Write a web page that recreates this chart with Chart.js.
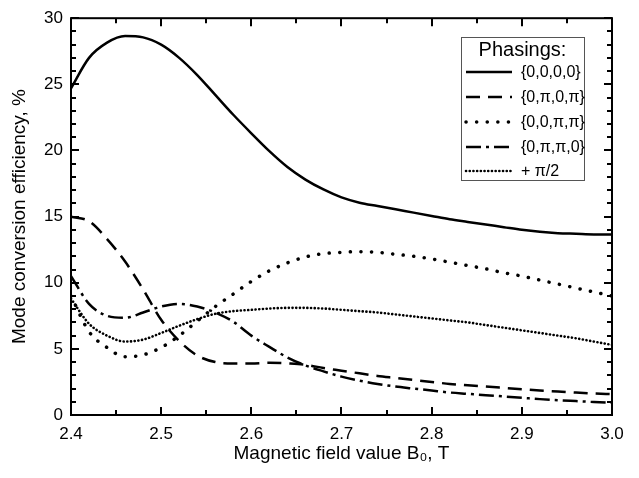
<!DOCTYPE html>
<html>
<head>
<meta charset="utf-8">
<script src="https://cdn.jsdelivr.net/npm/chart.js@4.4.1/dist/chart.umd.min.js"></script>
<style>
  html, body { margin: 0; padding: 0; background: #fff; }
  #wrap { width: 639px; height: 478px; }
</style>
</head>
<body>
<div id="wrap"><canvas id="chart" width="639" height="478"></canvas></div>
<script>
// field values, T
const fieldB = [2.40, 2.42, 2.44, 2.46, 2.48, 2.50, 2.52, 2.54, 2.56, 2.58, 2.60,
                2.62, 2.64, 2.66, 2.68, 2.70, 2.72, 2.74, 2.76, 2.78, 2.80,
                2.82, 2.84, 2.86, 2.88, 2.90, 2.92, 2.94, 2.96, 2.98, 3.00];

// conversion efficiency, % for each phasing
const phase0000 = [24.7, 27.0, 28.15, 28.65, 28.55, 28.0, 27.0, 25.7, 24.2, 22.7, 21.3,
                   19.95, 18.75, 17.8, 17.05, 16.45, 16.05, 15.8, 15.55, 15.3, 15.05,
                   14.8, 14.6, 14.4, 14.2, 14.0, 13.85, 13.75, 13.7, 13.65, 13.65];
const phase0p0p = [15.0, 14.65, 13.3, 11.6, 9.5, 7.2, 5.6, 4.5, 4.0, 3.9, 3.9,
                   3.95, 3.9, 3.8, 3.55, 3.35, 3.15, 2.95, 2.8, 2.65, 2.5,
                   2.35, 2.25, 2.15, 2.05, 1.95, 1.85, 1.78, 1.7, 1.63, 1.58];
const phase00pp = [9.0, 6.3, 5.1, 4.4, 4.55, 5.1, 6.0, 7.1, 8.2, 9.15, 10.1,
                   10.9, 11.5, 11.95, 12.2, 12.3, 12.35, 12.3, 12.15, 12.0, 11.8,
                   11.55, 11.3, 11.05, 10.75, 10.5, 10.2, 9.9, 9.6, 9.3, 9.0];
const phase0pp0 = [10.5, 8.4, 7.5, 7.35, 7.75, 8.2, 8.4, 8.2, 7.75, 7.05, 6.0,
                   5.15, 4.35, 3.75, 3.3, 2.9, 2.6, 2.35, 2.15, 2.0, 1.85,
                   1.7, 1.6, 1.5, 1.4, 1.3, 1.2, 1.12, 1.05, 0.98, 0.92];
const phaseHalfPi = [8.8, 6.9, 6.0, 5.55, 5.7, 6.2, 6.75, 7.25, 7.65, 7.85, 7.95,
                     8.05, 8.1, 8.1, 8.05, 7.95, 7.85, 7.75, 7.6, 7.45, 7.3,
                     7.15, 7.0, 6.8, 6.6, 6.4, 6.2, 6.0, 5.8, 5.55, 5.3];

const seriesLabels = ["{0,0,0,0}", "{0,\u03c0,0,\u03c0}", "{0,0,\u03c0,\u03c0}", "{0,\u03c0,\u03c0,0}", "+ \u03c0/2"];
const xTicks = [2.4, 2.5, 2.6, 2.7, 2.8, 2.9, 3.0];
const yTicks = [0, 5, 10, 15, 20, 25, 30];

const FONT = "'Liberation Sans', Arial, sans-serif";

function pts(ys) {
    return fieldB.map((b, i) => ({ x: b, y: ys[i] }));
}

function line(label, ys, dash, width, cap) {
    return {
        label: label,
        data: pts(ys),
        borderColor: "#000",
        borderWidth: width,
        borderDash: dash,
        borderCapStyle: cap || "butt",
        pointRadius: 0,
        fill: false,
        cubicInterpolationMode: "monotone"
    };
}

// ticks pointing into the plot on all four sides, plus the frame
const frameTicks = {
    id: "frameTicks",
    afterDatasetsDraw(chart) {
        const { ctx, chartArea: a, scales } = chart;
        const xs = scales.x, ys = scales.y;
        ctx.save();
        ctx.strokeStyle = "#000";
        ctx.lineWidth = 2;
        ctx.beginPath();
        for (let v = 2.4; v <= 3.0001; v += 0.05) {
            const px = Math.round(xs.getPixelForValue(v));
            const major = Math.abs(v * 10 - Math.round(v * 10)) < 1e-6;
            const len = major ? 8 : 5;
            ctx.moveTo(px, a.bottom); ctx.lineTo(px, a.bottom - len);
            ctx.moveTo(px, a.top); ctx.lineTo(px, a.top + len);
        }
        for (let v = 0; v <= 30; v += 1) {
            const py = Math.round(ys.getPixelForValue(v));
            const len = v % 5 === 0 ? 8 : 5;
            ctx.moveTo(a.left, py); ctx.lineTo(a.left + len, py);
            ctx.moveTo(a.right, py); ctx.lineTo(a.right - len, py);
        }
        ctx.stroke();
        ctx.strokeRect(a.left, a.top, a.right - a.left, a.bottom - a.top);
        ctx.restore();
    }
};

// boxed legend with a heading, drawn inside the plot area
const phasingLegend = {
    id: "phasingLegend",
    afterDraw(chart) {
        const ctx = chart.ctx;
        const box = { x: 461, y: 37, w: 123, h: 143 };
        ctx.save();
        ctx.fillStyle = "#fff";
        ctx.fillRect(box.x, box.y, box.w, box.h);
        ctx.strokeStyle = "#555";
        ctx.lineWidth = 1;
        ctx.strokeRect(box.x + 0.5, box.y + 0.5, box.w, box.h);

        ctx.fillStyle = "#000";
        ctx.font = "20px " + FONT;
        ctx.textAlign = "center";
        ctx.textBaseline = "middle";
        ctx.fillText("Phasings:", box.x + box.w / 2, 50);

        const rows = [72, 97, 122, 147, 171];
        chart.data.datasets.forEach((ds, i) => {
            const y = rows[i];
            ctx.save();
            ctx.strokeStyle = ds.borderColor;
            ctx.lineWidth = ds.borderWidth;
            ctx.setLineDash(ds.borderDash);
            ctx.lineCap = ds.borderCapStyle;
            ctx.beginPath();
            ctx.moveTo(466, y);
            ctx.lineTo(512, y);
            ctx.stroke();
            ctx.restore();
            ctx.font = "16px " + FONT;
            ctx.textAlign = "left";
            ctx.fillText(ds.label, 521, y + 1);
        });
        ctx.restore();
    }
};

new Chart(document.getElementById("chart"), {
    type: "line",
    data: {
        datasets: [
            line(seriesLabels[0], phase0000, [], 2.5),
            line(seriesLabels[1], phase0p0p, [14, 8], 2.5),
            line(seriesLabels[2], phase00pp, [0.1, 10.5], 3.5, "round"),
            line(seriesLabels[3], phase0pp0, [15, 5, 3, 5], 2.5),
            line(seriesLabels[4], phaseHalfPi, [0.1, 3.6], 2.6, "round")
        ]
    },
    options: {
        responsive: false,
        animation: false,
        layout: { padding: { top: 14, right: 27, left: 0, bottom: 0 } },
        plugins: {
            legend: { display: false },
            tooltip: { enabled: false }
        },
        scales: {
            x: {
                type: "linear",
                min: 2.4,
                max: 3.0,
                afterBuildTicks(scale) { scale.ticks = xTicks.map(v => ({ value: v })); },
                afterFit(scale) { scale.height = 63; },
                grid: { display: false, drawTicks: false },
                border: { display: false },
                ticks: {
                    color: "#000",
                    padding: 9,
                    font: { family: FONT, size: 17 },
                    callback: v => v.toFixed(1)
                },
                title: {
                    display: true,
                    text: "Magnetic field value B\u2080, T",
                    color: "#000",
                    font: { family: FONT, size: 19 },
                    padding: { top: 0, bottom: 13 }
                }
            },
            y: {
                min: 0,
                max: 30,
                afterBuildTicks(scale) { scale.ticks = yTicks.map(v => ({ value: v })); },
                afterFit(scale) { scale.width = 71; },
                grid: { display: false, drawTicks: false },
                border: { display: false },
                ticks: {
                    color: "#000",
                    padding: 8,
                    font: { family: FONT, size: 17 }
                },
                title: {
                    display: true,
                    text: "Mode conversion efficiency, %",
                    color: "#000",
                    font: { family: FONT, size: 19 },
                    padding: { top: 8, bottom: 0 }
                }
            }
        }
    },
    plugins: [frameTicks, phasingLegend]
});
</script>
</body>
</html>
